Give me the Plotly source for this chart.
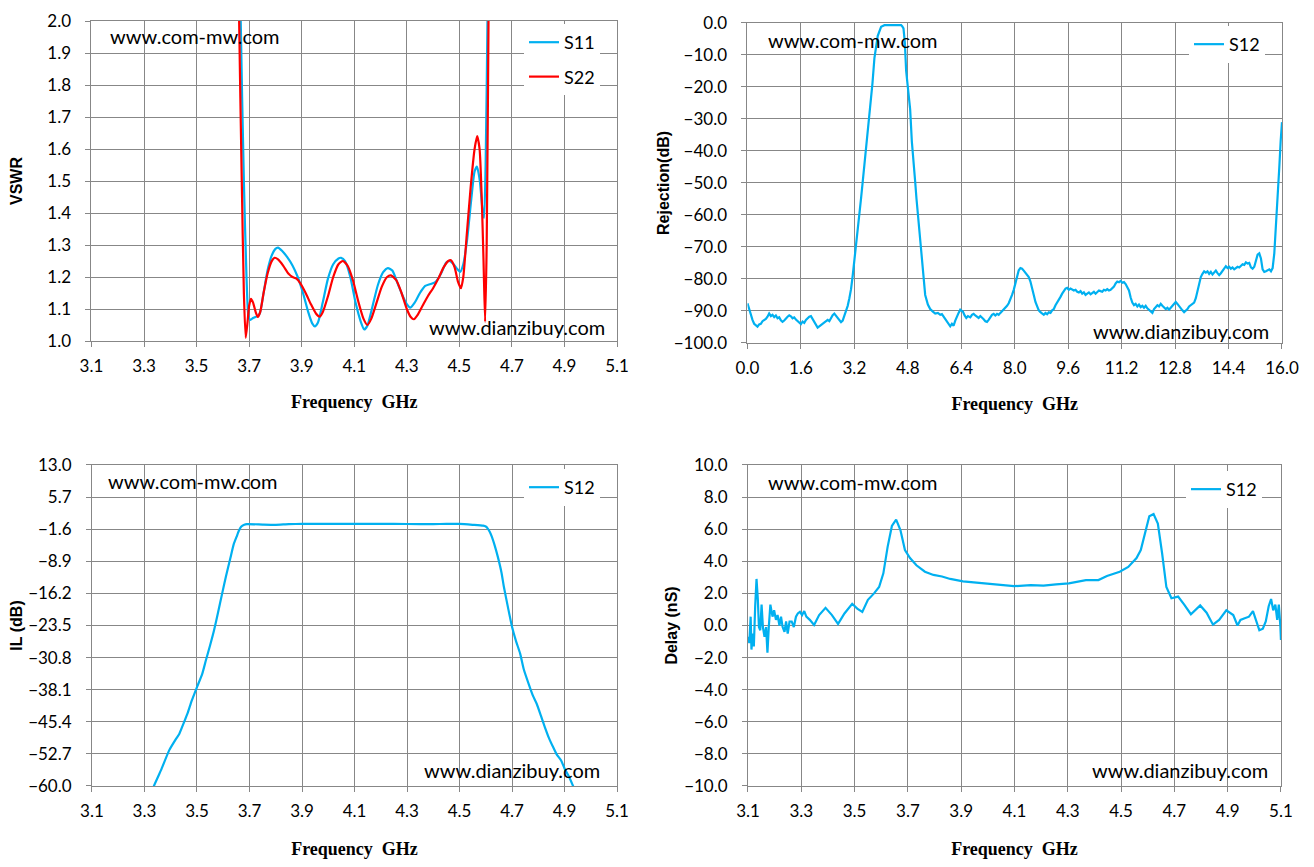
import plotly.graph_objects as go

# ---- VSWR (top left) ----
s11_f = [3.655, 3.668, 3.680, 3.690, 3.698, 3.705, 3.715, 3.728, 3.740, 3.755, 3.770, 3.785,
         3.800, 3.810, 3.825, 3.845, 3.865, 3.885, 3.905, 3.925, 3.940, 3.950, 3.962, 3.980,
         4.000, 4.020, 4.040, 4.050, 4.065, 4.085, 4.105, 4.125, 4.138, 4.150, 4.170, 4.190,
         4.210, 4.228, 4.245, 4.265, 4.285, 4.300, 4.313, 4.330, 4.350, 4.370, 4.390, 4.410,
         4.430, 4.450, 4.462, 4.478, 4.492, 4.503, 4.515, 4.530, 4.545, 4.558, 4.567, 4.578,
         4.588, 4.594, 4.600, 4.607, 4.615]
s11_v = [3.0, 2.0, 1.5, 1.2, 1.075, 1.066, 1.072, 1.076, 1.085, 1.15, 1.22, 1.265,
         1.288, 1.292, 1.282, 1.262, 1.236, 1.20, 1.15, 1.09, 1.055, 1.046, 1.058, 1.12,
         1.195, 1.24, 1.258, 1.26, 1.25, 1.20, 1.12, 1.06, 1.036, 1.048, 1.11, 1.175,
         1.215, 1.228, 1.22, 1.18, 1.14, 1.115, 1.104, 1.12, 1.15, 1.172, 1.178, 1.185,
         1.21, 1.245, 1.25, 1.24, 1.225, 1.216, 1.24, 1.32, 1.44, 1.53, 1.545, 1.50,
         1.41, 1.385, 1.55, 2.0, 2.8]

s22_f = [3.650, 3.662, 3.672, 3.680, 3.687, 3.694, 3.700, 3.707, 3.715, 3.725, 3.733, 3.742,
         3.755, 3.770, 3.785, 3.797, 3.810, 3.830, 3.850, 3.865, 3.880, 3.895, 3.915, 3.935,
         3.955, 3.968, 3.980, 4.000, 4.020, 4.040, 4.057, 4.075, 4.095, 4.115, 4.135, 4.150,
         4.165, 4.185, 4.205, 4.225, 4.240, 4.260, 4.280, 4.300, 4.315, 4.327, 4.340, 4.360,
         4.380, 4.400, 4.420, 4.440, 4.458, 4.468, 4.482, 4.495, 4.506, 4.515, 4.528, 4.543,
         4.558, 4.568, 4.577, 4.585, 4.592, 4.598, 4.604, 4.611, 4.620]
s22_v = [3.0, 2.0, 1.5, 1.15, 1.01, 1.06, 1.11, 1.132, 1.12, 1.09, 1.075, 1.09,
         1.15, 1.21, 1.248, 1.26, 1.255, 1.235, 1.21, 1.20, 1.195, 1.18, 1.15, 1.115,
         1.085, 1.076, 1.09, 1.14, 1.20, 1.24, 1.25, 1.235, 1.19, 1.125, 1.07, 1.05,
         1.07, 1.12, 1.17, 1.20, 1.205, 1.19, 1.15, 1.10, 1.075, 1.068, 1.08, 1.11,
         1.14, 1.165, 1.195, 1.23, 1.25, 1.252, 1.23, 1.185, 1.165, 1.20, 1.33, 1.48,
         1.60, 1.64, 1.60, 1.45, 1.25, 1.06, 1.3, 2.0, 2.9]

# ---- Rejection (top right) ----
rej_f = [0.00, 0.05, 0.10, 0.15, 0.20, 0.25, 0.30, 0.35, 0.40, 0.45, 0.50, 0.55, 0.60, 0.65,
         0.70, 0.75, 0.80, 0.85, 0.90, 0.95, 1.00, 1.05, 1.10, 1.15, 1.20, 1.25, 1.30, 1.35,
         1.40, 1.45, 1.50, 1.55, 1.60, 1.65, 1.70, 1.75, 1.80, 1.85, 1.90, 1.95, 2.00, 2.05,
         2.10, 2.15, 2.20, 2.25, 2.30, 2.35, 2.40, 2.45, 2.50, 2.55, 2.60, 2.65, 2.70, 2.75,
         2.80, 2.85, 2.90, 2.95, 3.00, 3.05, 3.10, 3.15, 3.20, 3.25, 3.30, 3.35, 3.40, 3.45,
         3.50, 3.55, 3.60, 3.65, 3.70, 3.74, 3.80, 3.90, 4.00, 4.10, 4.20, 4.30, 4.40, 4.50,
         4.55, 4.58, 4.60, 4.63, 4.67, 4.71, 4.75, 4.82, 4.87, 4.92, 4.97, 5.02, 5.06, 5.10,
         5.15, 5.19, 5.24, 5.28, 5.32, 5.40, 5.47, 5.55, 5.62, 5.70, 5.77, 5.82, 5.87, 5.92,
         5.97, 6.02, 6.07, 6.12, 6.17, 6.22, 6.27, 6.32, 6.37, 6.45, 6.50, 6.55, 6.60, 6.67,
         6.72, 6.77, 6.82, 6.87, 6.92, 6.97, 7.02, 7.07, 7.12, 7.17, 7.22, 7.27, 7.32, 7.37,
         7.42, 7.47, 7.52, 7.57, 7.62, 7.67, 7.72, 7.77, 7.82, 7.87, 7.92, 7.97, 8.02, 8.07,
         8.12, 8.17, 8.22, 8.27, 8.32, 8.37, 8.42, 8.47, 8.52, 8.57, 8.62, 8.67, 8.72, 8.77,
         8.82, 8.87, 8.92, 8.97, 9.02, 9.07, 9.12, 9.17, 9.22, 9.27, 9.32, 9.37, 9.42, 9.47,
         9.52, 9.57, 9.62, 9.67, 9.72, 9.77, 9.82, 9.87, 9.92, 9.97, 10.02, 10.07, 10.12,
         10.17, 10.22, 10.27, 10.32, 10.37, 10.42, 10.47, 10.52, 10.57, 10.62, 10.67, 10.72,
         10.77, 10.82, 10.87, 10.92, 10.97, 11.02, 11.07, 11.12, 11.17, 11.22, 11.27, 11.32,
         11.37, 11.42, 11.47, 11.52, 11.57, 11.62, 11.67, 11.72, 11.77, 11.82, 11.87, 11.92,
         11.97, 12.02, 12.07, 12.12, 12.17, 12.22, 12.27, 12.32, 12.37, 12.42, 12.47, 12.52,
         12.57, 12.62, 12.67, 12.72, 12.77, 12.82, 12.87, 12.92, 12.97, 13.02, 13.07, 13.12,
         13.17, 13.22, 13.27, 13.32, 13.37, 13.42, 13.47, 13.52, 13.57, 13.62, 13.67, 13.72,
         13.77, 13.82, 13.87, 13.92, 13.97, 14.02, 14.07, 14.12, 14.17, 14.22, 14.27, 14.32,
         14.37, 14.42, 14.47, 14.52, 14.57, 14.62, 14.67, 14.72, 14.77, 14.82, 14.87, 14.92,
         14.97, 15.02, 15.07, 15.12, 15.17, 15.22, 15.27, 15.32, 15.37, 15.42, 15.47, 15.52,
         15.57, 15.62, 15.67, 15.72, 15.77, 15.82, 15.87, 15.92, 15.96, 16.00]
rej_db = [-87.6, -89.4, -91.6, -92.8, -94.0, -94.6, -94.9, -94.2, -94.0, -93.2, -92.8, -92.5,
          -91.8, -90.8, -91.6, -91.2, -91.9, -91.4, -92.3, -92.0, -92.9, -93.4, -93.0, -92.3,
          -91.8, -91.4, -91.7, -92.3, -92.0, -92.7, -93.1, -93.5, -94.1, -93.3, -93.7, -92.8,
          -92.2, -91.8, -91.6, -92.5, -93.2, -94.4, -95.2, -94.8, -94.4, -93.9, -93.6, -93.0,
          -92.8, -93.2, -92.0, -91.3, -90.8, -91.4, -92.2, -92.9, -93.5, -93.0, -91.6, -90.2,
          -88.4, -86.0, -83.2, -79.0, -74.5, -69.5, -64.8, -60.0, -54.8, -49.6, -44.2, -39.1,
          -33.6, -28.7, -24.4, -19.0, -11.0, -4.0, -1.2, -0.7, -0.7, -0.6, -0.7, -0.7, -0.6,
          -0.7, -0.7, -1.0, -1.7, -6.0, -15.0, -22.0, -27.0, -37.0, -42.5, -49.6, -55.0, -60.0,
          -64.5, -70.3, -76.0, -80.8, -85.0, -88.0, -89.4, -90.2, -90.8, -90.6, -91.2, -91.0,
          -91.8, -92.4, -93.6, -94.2, -94.8, -94.0, -94.6, -93.0, -91.6, -90.6, -89.6, -90.2,
          -91.4, -92.2, -91.6, -92.0, -91.2, -90.9, -91.4, -91.8, -92.2, -91.6, -92.0, -92.6,
          -93.2, -93.4, -92.8, -91.9, -91.2, -90.9, -91.4, -90.9, -91.2, -90.6, -90.1, -89.4,
          -88.8, -88.4, -87.6, -86.4, -85.0, -83.4, -81.0, -78.8, -77.3, -76.6, -76.8, -77.4,
          -78.0, -78.6, -79.4, -80.8, -82.6, -85.0, -87.2, -88.8, -89.8, -90.4, -90.9, -91.2,
          -90.6, -91.0, -90.4, -90.6, -89.8, -89.4, -88.2, -87.4, -86.8, -85.6, -84.6, -83.6,
          -83.0, -82.8, -83.4, -83.0, -83.2, -83.6, -83.4, -84.0, -84.2, -83.8, -84.6, -84.2,
          -85.0, -84.6, -84.2, -84.8, -84.4, -84.0, -84.6, -84.0, -83.6, -83.8, -84.0, -83.4,
          -83.6, -83.2, -83.6, -83.4, -82.8, -82.4, -81.4, -80.8, -81.0, -80.6, -81.2, -81.0,
          -81.6, -82.4, -83.6, -85.8, -87.4, -88.2, -87.8, -88.6, -88.0, -88.8, -88.4, -89.0,
          -88.4, -89.2, -89.6, -90.2, -90.6, -89.4, -88.8, -88.2, -88.6, -87.8, -88.4, -88.8,
          -89.4, -89.0, -89.6, -89.0, -88.4, -87.6, -87.2, -87.8, -88.6, -89.2, -89.8, -90.4,
          -90.0, -89.4, -88.6, -88.2, -88.0, -87.4, -86.0, -83.6, -81.0, -79.4, -78.4, -77.6,
          -78.0, -77.6, -78.4, -77.8, -78.6, -78.0, -77.4, -78.2, -78.8, -78.2, -77.4, -76.4,
          -76.0, -76.6, -76.2, -76.8, -76.4, -77.0, -76.6, -76.2, -76.4, -75.8, -75.4, -75.6,
          -74.8, -75.2, -75.0, -76.4, -76.8, -76.2, -74.2, -72.4, -72.0, -73.6, -77.0, -77.8,
          -77.6, -77.2, -77.0, -77.6, -76.6, -72.0, -64.0, -54.0, -45.0, -37.0, -31.0, -28.4,
          -27.0]

# ---- Insertion loss (bottom left) ----
il_f = [3.30, 3.336, 3.363, 3.394, 3.42, 3.433, 3.45, 3.464, 3.48, 3.50, 3.52, 3.534, 3.55,
        3.565, 3.58, 3.596, 3.61, 3.627, 3.64, 3.651, 3.66, 3.669, 3.68, 3.69, 3.75, 3.80,
        3.85, 3.90, 4.00, 4.10, 4.20, 4.30, 4.40, 4.45, 4.50, 4.55, 4.59, 4.60, 4.607, 4.615,
        4.623, 4.635, 4.646, 4.66, 4.669, 4.685, 4.70, 4.715, 4.731, 4.745, 4.763, 4.78, 4.794,
        4.81, 4.825, 4.84, 4.856, 4.87, 4.887, 4.90, 4.918, 4.934, 4.96]
il_db = [-66.0, -60.0, -56.4, -51.9, -49.3, -48.1, -45.6, -43.5, -40.6, -37.5, -34.5, -31.4,
         -28.0, -24.6, -20.6, -16.2, -12.4, -8.2, -5.0, -3.3, -1.9, -1.0, -0.6, -0.45, -0.55,
         -0.6, -0.45, -0.4, -0.4, -0.4, -0.4, -0.42, -0.45, -0.4, -0.4, -0.6, -0.8, -1.0, -1.4,
         -2.2, -3.3, -5.5, -7.9, -11.5, -14.7, -19.5, -23.8, -27.0, -29.9, -33.5, -36.7, -39.5,
         -41.3, -44.0, -46.6, -49.0, -51.1, -52.8, -54.2, -56.0, -58.0, -60.2, -64.0]
il_ticks = [13.0, 5.7, -1.6, -8.9, -16.2, -23.5, -30.8, -38.1, -45.4, -52.7, -60.0]

# ---- Group delay (bottom right) ----
gd_f = [3.100, 3.105, 3.110, 3.113, 3.118, 3.122, 3.127, 3.132, 3.137, 3.141, 3.146, 3.151,
        3.156, 3.162, 3.168, 3.173, 3.178, 3.184, 3.192, 3.198, 3.205, 3.211, 3.218, 3.224,
        3.230, 3.237, 3.243, 3.249, 3.256, 3.264, 3.272, 3.280, 3.287, 3.295, 3.303, 3.311,
        3.319, 3.332, 3.348, 3.367, 3.391, 3.415, 3.438, 3.462, 3.491, 3.510, 3.529, 3.550,
        3.573, 3.592, 3.608, 3.624, 3.640, 3.656, 3.672, 3.689, 3.708, 3.732, 3.764, 3.796,
        3.828, 3.859, 3.907, 3.955, 4.002, 4.050, 4.098, 4.161, 4.209, 4.256, 4.304, 4.368,
        4.415, 4.447, 4.495, 4.527, 4.558, 4.574, 4.590, 4.606, 4.622, 4.638, 4.654, 4.670,
        4.689, 4.714, 4.737, 4.762, 4.797, 4.821, 4.845, 4.868, 4.895, 4.921, 4.937, 4.948,
        4.964, 4.980, 4.995, 5.006, 5.019, 5.032, 5.043, 5.054, 5.063, 5.071, 5.079, 5.086,
        5.092, 5.098, 5.100]
gd_ns = [-0.7, -1.1, 0.55, -1.5, -0.5, -1.3, 1.2, 2.9, 1.6, -0.1, -0.3, 1.3,
         -0.1, -0.7, -0.1, -1.7, -0.1, 1.3, 0.55, 0.95, 0.35, 0.65, 0.0, 0.55,
         -0.1, -0.4, 0.25, -0.5, 0.25, 0.25, -0.1, 0.55, 0.75, 0.85, 0.65, 0.9,
         0.55, 0.35, 0.03, 0.65, 1.1, 0.65, 0.1, 0.75, 1.35, 1.05, 0.85, 1.6,
         2.0, 2.4, 3.25, 4.9, 6.2, 6.6, 5.95, 4.7, 4.2, 3.75, 3.35, 3.15,
         3.05, 2.9, 2.75, 2.67, 2.6, 2.52, 2.45, 2.52, 2.48, 2.56, 2.62, 2.83,
         2.83, 3.08, 3.35, 3.65, 4.2, 4.7, 5.75, 6.8, 6.95, 6.35, 4.5, 2.4,
         1.7, 1.8, 1.3, 0.7, 1.25, 0.8, 0.05, 0.35, 0.95, 0.65, 0.0, 0.35,
         0.45, 0.55, 0.9, 0.35, -0.3, -0.2, 0.25, 1.2, 1.65, 0.95, 1.3, 0.35,
         1.3, -0.1, -0.9]

BLUE = "#00B0F0"
RED = "#FF0000"
GRID = "#878787"
TICK_FONT = dict(family="Lato", size=17, color="black")
LEG_FONT = dict(family="Lato", size=18, color="black")
MARK_FONT = dict(family="Lato", size=20, color="black")
XT_FONT = dict(family="Liberation Serif", size=18, color="black", weight="bold")
YT_FONT = dict(family="Liberation Sans", size=16, color="black", weight="bold")

fig = go.Figure()
fig.add_trace(go.Scatter(x=s11_f, y=s11_v, name="S11", xaxis="x", yaxis="y",
                         line=dict(color=BLUE, width=2.2, shape="spline", smoothing=0.6),
                         legend="legend", legendgroup="a"))
fig.add_trace(go.Scatter(x=s22_f, y=s22_v, name="S22", xaxis="x", yaxis="y",
                         line=dict(color=RED, width=2.2, shape="spline", smoothing=0.6),
                         legend="legend", legendgroup="b"))
fig.add_trace(go.Scatter(x=rej_f, y=rej_db, name="S12", xaxis="x2", yaxis="y2",
                         line=dict(color=BLUE, width=2.2), legend="legend2"))
fig.add_trace(go.Scatter(x=il_f, y=il_db, name="S12", xaxis="x3", yaxis="y3",
                         line=dict(color=BLUE, width=2.2, shape="spline", smoothing=0.5),
                         legend="legend3"))
fig.add_trace(go.Scatter(x=gd_f, y=gd_ns, name="S12", xaxis="x4", yaxis="y4",
                         line=dict(color=BLUE, width=2.2), legend="legend4"))

axis_common = dict(showgrid=True, gridcolor=GRID, gridwidth=1, showline=True, linecolor=GRID,
                   linewidth=1, mirror=True, ticks="outside", ticklen=5, tickcolor=GRID,
                   zeroline=False, tickfont=TICK_FONT, tickformat=".1f", automargin=False)
x_common = dict(axis_common, ticklabelstandoff=5)
y_common = dict(axis_common, ticklabelstandoff=11)

# page body keeps an 8px margin, so the figure is 1298x851 inside the 1314x867 window
fig.update_layout(
    width=1298, height=851, margin=dict(l=0, r=0, t=0, b=0),
    paper_bgcolor="white", plot_bgcolor="white", showlegend=True,
    xaxis=dict(x_common, domain=[0.0643, 0.4692], anchor="y", range=[3.1, 5.1],
               tick0=3.1, dtick=0.2,
               title=dict(text="Frequency  GHz", font=XT_FONT, standoff=20)),
    yaxis=dict(y_common, domain=[0.6087, 0.9847], anchor="x", range=[1.0, 2.0],
               tick0=1.0, dtick=0.1,
               title=dict(text="VSWR", font=YT_FONT, standoff=20)),
    xaxis2=dict(x_common, domain=[0.5697, 0.9815], anchor="y2", range=[0, 16],
                tick0=0, dtick=1.6,
                title=dict(text="Frequency  GHz", font=XT_FONT, standoff=20)),
    yaxis2=dict(y_common, domain=[0.6064, 0.9824], anchor="x2", range=[-100, 0],
                tick0=0, dtick=10,
                title=dict(text="Rejection(dB)", font=YT_FONT, standoff=0)),
    xaxis3=dict(x_common, domain=[0.0647, 0.4692], anchor="y3", range=[3.1, 5.1],
                tick0=3.1, dtick=0.2,
                title=dict(text="Frequency  GHz", font=XT_FONT, standoff=26)),
    yaxis3=dict(y_common, domain=[0.0858, 0.4630], anchor="x3", range=[-60, 13],
                tickmode="array", tickvals=il_ticks,
                title=dict(text="IL (dB)", font=YT_FONT, standoff=3)),
    xaxis4=dict(x_common, domain=[0.5701, 0.9807], anchor="y4", range=[3.1, 5.1],
                tick0=3.1, dtick=0.2,
                title=dict(text="Frequency  GHz", font=XT_FONT, standoff=28)),
    yaxis4=dict(y_common, domain=[0.0858, 0.4630], anchor="x4", range=[-10, 10],
                tick0=0, dtick=2,
                title=dict(text="Delay (nS)", font=YT_FONT, standoff=2)),
)

legend_common = dict(bgcolor="white", borderwidth=0, font=LEG_FONT, xanchor="right",
                     yanchor="top", tracegroupgap=8)
fig.update_layout(
    legend=dict(legend_common, x=0.4561, y=0.9812),
    legend2=dict(legend_common, x=0.9684, y=0.9789),
    legend3=dict(legend_common, x=0.4561, y=0.4583),
    legend4=dict(legend_common, x=0.9661, y=0.4560),
)

# site marks
marks = [("x", "y", 0.031, 0.953, 0.981, 0.044),
         ("x2", "y2", 0.035, 0.947, 0.979, 0.038),
         ("x3", "y3", 0.027, 0.950, 0.971, 0.050),
         ("x4", "y4", 0.034, 0.947, 0.979, 0.050)]
for xa, ya, x1, y1, x2, y2 in marks:
    fig.add_annotation(text="www.com-mw.com", xref=f"{xa} domain", yref=f"{ya} domain",
                       x=x1, y=y1, xanchor="left", yanchor="middle", showarrow=False,
                       font=MARK_FONT)
    fig.add_annotation(text="www.dianzibuy.com", xref=f"{xa} domain", yref=f"{ya} domain",
                       x=x2, y=y2, xanchor="right", yanchor="middle", showarrow=False,
                       font=MARK_FONT)

fig.write_html("out.html")
